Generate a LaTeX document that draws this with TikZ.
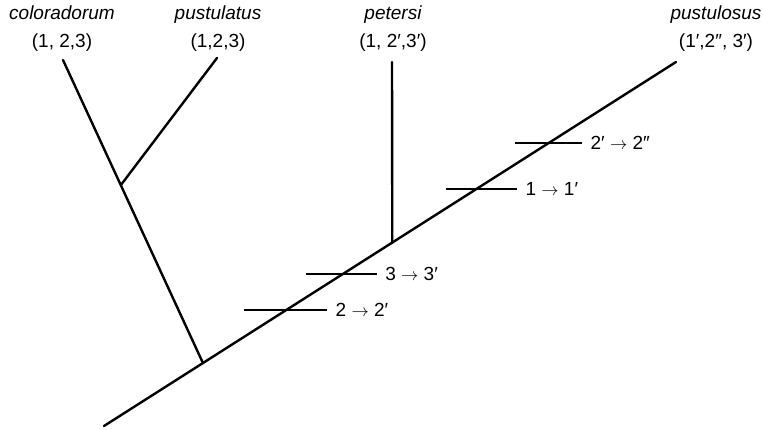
\documentclass[tikz,border=0pt]{standalone}
\usepackage{fontspec}
\setmainfont{Liberation Sans}
\begin{document}
\begin{tikzpicture}[x=1pt, y=-1pt, font=\fontsize{19}{21}\selectfont,
  branch/.style={line width=2.4pt, line cap=round},
  change/.style={line width=2.4pt},
  taxon/.style={font=\fontsize{19}{21}\selectfont\itshape, anchor=base, inner sep=0pt},
  states/.style={anchor=base, inner sep=0pt},
  shiftlabel/.style={anchor=west, inner sep=0pt, xshift=7pt}
]
  \useasboundingbox (0,0) rectangle (763,430);
  % tronc principal
  \coordinate (root) at (104,426);
  \coordinate (top)  at (676,62);
  \path (root) -- (top)
    coordinate[pos=0.173] (n1)
    coordinate[pos=0.319] (c1)
    coordinate[pos=0.418] (c2)
    coordinate[pos=0.504] (n2)
    coordinate[pos=0.651] (c3)
    coordinate[pos=0.777] (c4);
  \coordinate (colo) at (63,60);
  \coordinate (pstl) at (217,58);
  \coordinate (pete) at (392,62);
  \path (n1) -- (colo) coordinate[pos=0.587] (n0);
  \draw[branch] (root) -- (top);
  \draw[branch] (n1) -- (colo);
  \draw[branch] (n0) -- (pstl);
  \draw[branch] (n2) -- (pete);
  % taxons
  \node[taxon]  (t1) at (62,20)  {coloradorum};
  \node[states] (s1) at (62,48)  {(1, 2,3)};
  \node[taxon]  (t2) at (218,20) {pustulatus};
  \node[states] (s2) at (218,48) {(1,2,3)};
  \node[taxon]  (t3) at (393,20) {petersi};
  \node[states] (s3) at (393,48) {(1, 2′,3′)};
  \node[taxon]  (t4) at (716,20) {pustulosus};
  \node[states] (s4) at (716,48) {(1′,2″, 3′)};
  % changements de caracteres
  \draw[change] ([xshift=-42pt]c1) -- ([xshift=41pt]c1) node[shiftlabel] (l1) {2 $\rightarrow$ 2′};
  \draw[change] ([xshift=-37pt]c2) -- ([xshift=34pt]c2) node[shiftlabel] (l2) {3 $\rightarrow$ 3′};
  \draw[change] ([xshift=-30pt]c3) -- ([xshift=41pt]c3) node[shiftlabel] (l3) {1 $\rightarrow$ 1′};
  \draw[change] ([xshift=-33pt]c4) -- ([xshift=34pt]c4) node[shiftlabel] (l4) {2′ $\rightarrow$ 2″};
\end{tikzpicture}
\end{document}
